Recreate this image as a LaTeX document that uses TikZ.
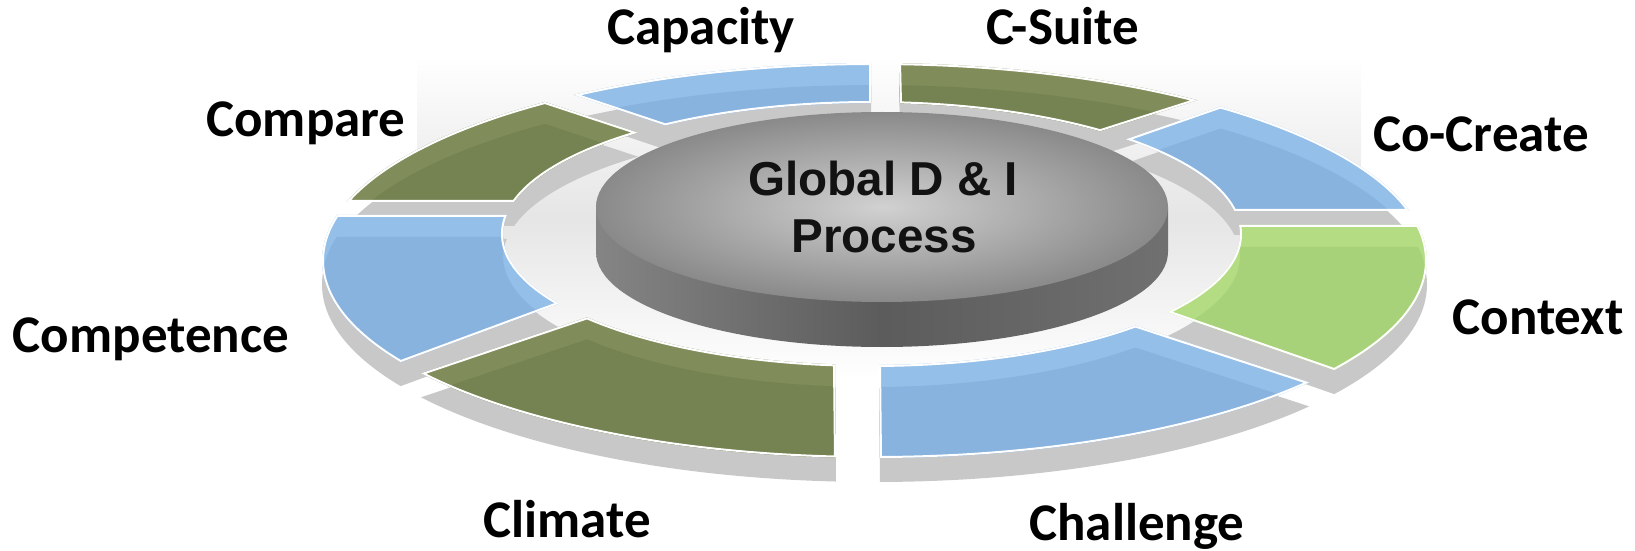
\documentclass[tikz,border=0pt]{standalone}
\usepackage{fontspec}
\usepackage{tikz}

\newfontfamily\labelfont{Carlito}
\newfontfamily\corefont{Liberation Sans}

\definecolor{segblue}{RGB}{148,191,233}
\definecolor{segbluedk}{RGB}{136,179,223}
\definecolor{segolive}{RGB}{128,141,91}
\definecolor{segolivedk}{RGB}{116,131,81}
\definecolor{seggreen}{RGB}{180,221,131}
\definecolor{seggreendk}{RGB}{168,210,121}
\definecolor{ringshadow}{RGB}{200,200,200}

% outer and inner rim of the ring
\def\ringpath{(874.5,260.5) ellipse [x radius=552.5, y radius=197.5] (871.5,234) ellipse [x radius=368.5, y radius=131]}

\begin{document}
\begin{tikzpicture}[x=0.5pt, y=-0.5pt,
	seglabel/.style={font=\labelfont\bfseries\fontsize{26.5}{30}\selectfont, anchor=base},
	coretext/.style={font=\corefont\bfseries\fontsize{23.8}{28}\selectfont, anchor=base, text=black!93}]
	\useasboundingbox (0,0) rectangle (1635,551);
	
	% floor behind the ring
	\shade[top color=white, bottom color=white, middle color=black!10] (417,55) rectangle (1361,380);
	
	% thickness of the ring parts
	\foreach \partshape in {
		{(716.5,142.5) -- (469,60) -- (871,25) -- (871,122.5) -- cycle},
		{(900.5,123) -- (898,23) -- (1292,70) -- (1057,145) -- cycle},
		{(1081,155) -- (1311,75) -- (1579,211) -- (1151.5,211) -- cycle},
		{(1154,225) -- (1594,225) -- (1498,427) -- (1088,284.5) -- cycle},
		{(1054.5,299) -- (1482,439) -- (881,550) -- (878.5,320) -- cycle},
		{(834.5,318.5) -- (837,551) -- (259,428) -- (666.5,290.5) -- cycle},
		{(636.5,275) -- (244,420) -- (151,215) -- (598.5,215) -- cycle},
		{(601,202) -- (176,202) -- (451,71) -- (686,148.5) -- cycle}}
	{
		\begin{scope}[transform canvas={yshift=-12pt}]
			\clip \partshape;
			\fill[ringshadow, even odd rule] \ringpath;
		\end{scope}
	}
	
	% the eight parts of the ring
	\foreach \partshape/\light/\dark in {
		{(716.5,142.5) -- (469,60) -- (871,25) -- (871,122.5) -- cycle}/segblue/segbluedk,
		{(900.5,123) -- (898,23) -- (1292,70) -- (1057,145) -- cycle}/segolive/segolivedk,
		{(1081,155) -- (1311,75) -- (1579,211) -- (1151.5,211) -- cycle}/segblue/segbluedk,
		{(1154,225) -- (1594,225) -- (1498,427) -- (1088,284.5) -- cycle}/seggreen/seggreendk,
		{(1054.5,299) -- (1482,439) -- (881,550) -- (878.5,320) -- cycle}/segblue/segbluedk,
		{(834.5,318.5) -- (837,551) -- (259,428) -- (666.5,290.5) -- cycle}/segolive/segolivedk,
		{(636.5,275) -- (244,420) -- (151,215) -- (598.5,215) -- cycle}/segblue/segbluedk,
		{(601,202) -- (176,202) -- (451,71) -- (686,148.5) -- cycle}/segolive/segolivedk}
	{
		\begin{scope}[even odd rule]
			\clip \partshape;
			\clip \ringpath;
			\fill[\light] (0,0) rectangle (1635,551);
			\begin{scope}[transform canvas={yshift=-11pt}]
				\clip \partshape;
				\fill[\dark] \ringpath;
			\end{scope}
			\draw[white, line width=2pt] \partshape \ringpath;
		\end{scope}
	}
	
	% the disc in the middle
	\shade[left color=black!48, right color=black!56, middle color=black!64]
		(596,207) -- (596,252) arc[start angle=180, end angle=0, x radius=286, y radius=95] -- (1168,207) -- cycle;
	\shade[inner color=black!18, outer color=black!46] (882,207) ellipse [x radius=286, y radius=95];
	\node[coretext] (core-a) at (883,196) {Global D \& I};
	\node[coretext] (core-b) at (884,253) {Process};
	
	% labels
	\node[seglabel] (capacity) at (701,45) {Capacity};
	\node[seglabel] (csuite) at (1063,45) {C-Suite};
	\node[seglabel] (compare) at (306,137) {Compare};
	\node[seglabel] (cocreate) at (1481,152) {Co-Create};
	\node[seglabel] (competence) at (151,352) {Competence};
	\node[seglabel] (context) at (1538,335) {Context};
	\node[seglabel] (climate) at (567,537) {Climate};
	\node[seglabel] (challenge) at (1137,540) {Challenge};
\end{tikzpicture}
\end{document}
